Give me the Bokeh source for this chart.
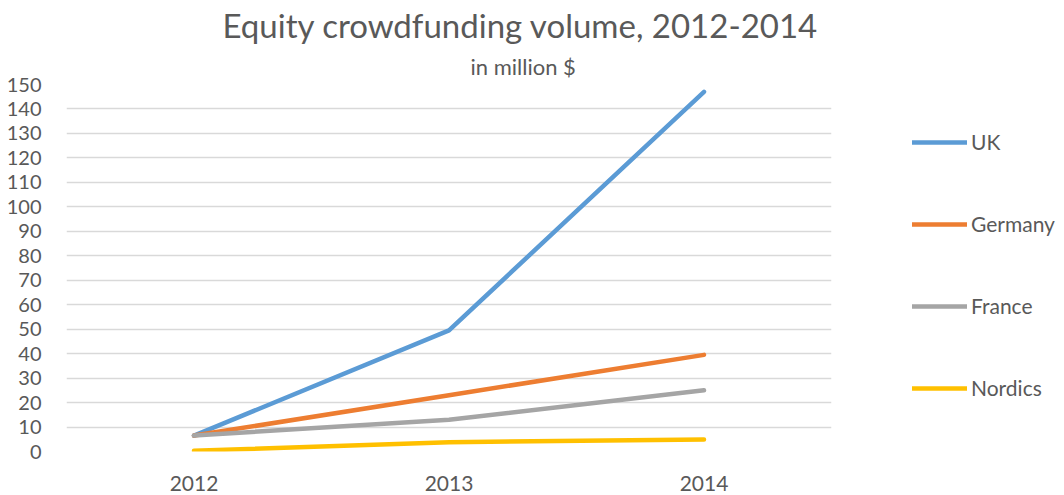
from bokeh.plotting import figure
from bokeh.models import Range1d, Legend, LegendItem, Title, FixedTicker
from bokeh.embed import file_html
from bokeh.resources import INLINE

years = ["2012", "2013", "2014"]
uk = [6.5, 49.5, 147]
germany = [6.5, 23, 39.5]
france = [6.5, 13, 25]
nordics = [0.3, 3.8, 4.9]
series_names = ["UK", "Germany", "France", "Nordics"]
colors = ["#5B9BD5", "#ED7D31", "#A5A5A5", "#FFC000"]
y_ticks = list(range(0, 151, 10))

FONT = "Lato"
TXT = "#595959"

p = figure(frame_width=765, frame_height=367, x_range=years, y_range=Range1d(0, 150),
           output_backend="svg", toolbar_location=None,
           min_border_left=66, min_border_right=10, min_border_top=76, min_border_bottom=30)
p.title = None
p.outline_line_color = None
p.background_fill_color = "white"
p.border_fill_color = "white"

sub = Title(text="in million $", align="left", offset=404, text_font=FONT,
            text_font_size="22px", text_color=TXT, text_font_style="normal", standoff=9)
ttl = Title(text="Equity crowdfunding volume, 2012-2014", align="left", offset=156,
            text_font=FONT, text_font_size="33px", text_color=TXT, text_font_style="normal",
            standoff=4)
p.add_layout(sub, "above")
p.add_layout(ttl, "above")

p.ygrid.grid_line_color = "#D9D9D9"
p.ygrid.grid_line_width = 1.5
p.xgrid.grid_line_color = None
p.yaxis.ticker = FixedTicker(ticks=y_ticks)
for ax in (p.xaxis, p.yaxis):
    ax.axis_line_color = None
    ax.major_tick_line_color = None
    ax.minor_tick_line_color = None
    ax.major_label_text_font = FONT
    ax.major_label_text_color = TXT
    ax.major_label_text_font_size = "20px"
p.xaxis.major_label_text_font_size = "21px"
p.yaxis.major_label_standoff = 19
p.xaxis.major_label_standoff = 18

items = []
for name, vals, c in zip(series_names, [uk, germany, france, nordics], colors):
    r = p.line(years, vals, line_color=c, line_width=4.5, line_cap="round", line_join="round")
    items.append(LegendItem(label=name, renderers=[r]))

legend = Legend(items=items, location=(81, 51), orientation="vertical",
                glyph_width=55, glyph_height=24, spacing=57, label_standoff=4,
                label_text_font=FONT, label_text_font_size="21px", label_text_color=TXT,
                border_line_color=None, background_fill_alpha=0, margin=0, padding=0)
p.add_layout(legend, "right")

open("out.html", "w").write(file_html(p, INLINE))
